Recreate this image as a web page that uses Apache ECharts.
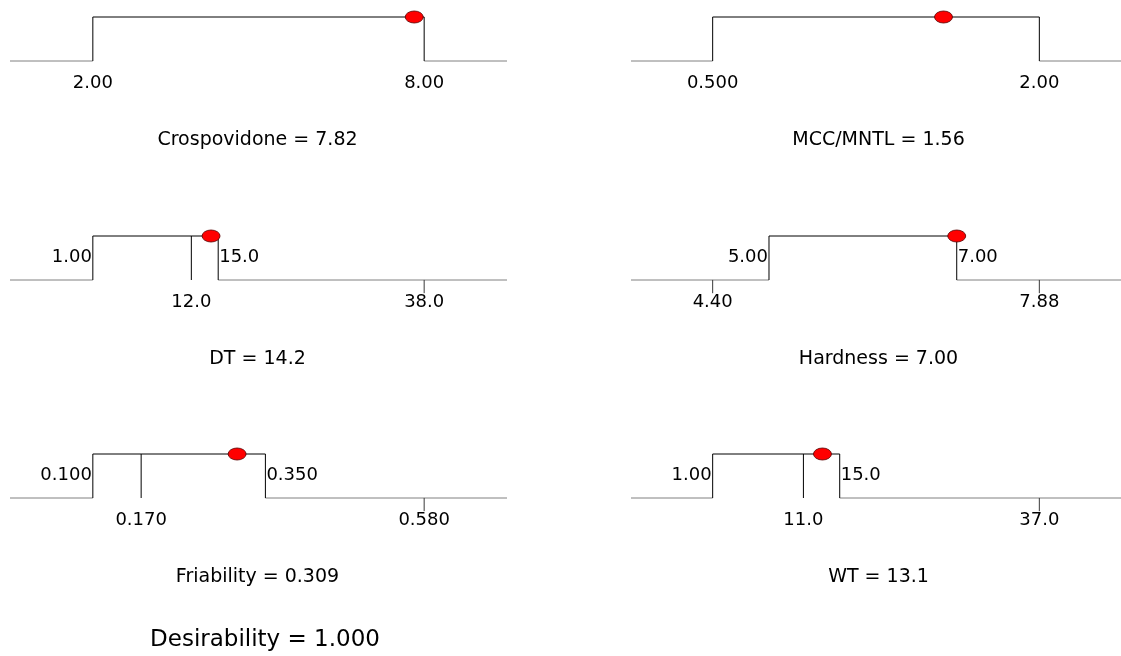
<!DOCTYPE html>
<html>
<head>
<meta charset="utf-8">
<script src="https://cdn.jsdelivr.net/npm/echarts@6/dist/echarts.min.js"></script>
<style>
html,body{margin:0;padding:0;background:#fff;}
#chart{width:1121px;height:656px;}
</style>
</head>
<body>
<div id="chart"></div>
<script>
// ---- data ----
const names = ['Crospovidone', 'MCC/MNTL', 'DT', 'Hardness', 'Friability', 'WT'];
const goalLow = [2, 0.5, 1, 5, 0.1, 1];
const goalHigh = [8, 2, 15, 7, 0.35, 15];
const dataMin = [2, 0.5, 12, 4.4, 0.17, 11];
const dataMax = [8, 2, 38, 7.88, 0.58, 37];
const current = [7.82, 1.56, 14.2, 7.0, 0.309, 13.1];
const goalLowText = ['2.00', '0.500', '1.00', '5.00', '0.100', '1.00'];
const goalHighText = ['8.00', '2.00', '15.0', '7.00', '0.350', '15.0'];
const dataMinText = ['2.00', '0.500', '12.0', '4.40', '0.170', '11.0'];
const dataMaxText = ['8.00', '2.00', '38.0', '7.88', '0.580', '37.0'];
const currentText = ['7.82', '1.56', '14.2', '7.00', '0.309', '13.1'];
const desirabilityText = '1.000';

// ---- layout ----
const FONT = 'DejaVu Sans';
const rowBase = [61, 280, 498];
const colLeft = [10, 631];
const panelW = 497;
const unitPx = 44;
const YMIN = -0.6, YMAX = 1.3;

const grids = [], xAxes = [], yAxes = [], series = [], graphics = [];

function seg(i, pts, color, z) {
  series.push({
    type: 'line', xAxisIndex: i, yAxisIndex: i, data: pts, symbol: 'none',
    lineStyle: { color: color, width: 1 }, silent: true, z: z || 2
  });
}
function txt(i, x, y, text, position) {
  series.push({
    type: 'scatter', xAxisIndex: i, yAxisIndex: i, symbolSize: 0, data: [[x, y]],
    silent: true, z: 4, itemStyle: { opacity: 1, color: '#000' },
    label: { show: true, formatter: text, position: position, distance: 1,
      color: '#000', opacity: 1, textBorderWidth: 0, fontSize: 18, fontFamily: FONT }
  });
}

names.forEach(function (name, i) {
  const r = Math.floor(i / 2), c = i % 2;
  const base = rowBase[r];
  grids.push({ left: colLeft[c], width: panelW, top: base - YMAX * unitPx, height: (YMAX - YMIN) * unitPx });
  const lo = Math.min(goalLow[i], dataMin[i]);
  const hi = Math.max(goalHigh[i], dataMax[i]);
  const pad = 0.25 * (hi - lo);
  const xmin = lo - pad, xmax = hi + pad;
  xAxes.push({ type: 'value', gridIndex: i, min: xmin, max: xmax, show: false });
  yAxes.push({ type: 'value', gridIndex: i, min: YMIN, max: YMAX, show: false });

  // zero-desirability segments
  seg(i, [[xmin, 0], [goalLow[i], 0]], '#808080', 2);
  seg(i, [[goalHigh[i], 0], [xmax, 0]], '#808080', 2);
  // desirable region
  seg(i, [[goalLow[i], 0], [goalLow[i], 1], [goalHigh[i], 1], [goalHigh[i], 0]], '#000', 3);

  // data range ticks and labels
  const marks = [[dataMin[i], dataMinText[i]], [dataMax[i], dataMaxText[i]]];
  marks.forEach(function (d) {
    const v = d[0];
    if (v !== goalLow[i] && v !== goalHigh[i]) {
      if (v > goalLow[i] && v < goalHigh[i]) {
        seg(i, [[v, 0], [v, 1]], '#000', 3);
      } else {
        seg(i, [[v, 0.001], [v, -0.3]], '#3a3a3a', 6);
      }
    }
    txt(i, v, -0.5, d[1], 'inside');
  });
  // goal limit labels (when distinct from data range)
  if (goalLow[i] !== dataMin[i]) txt(i, goalLow[i], 0.52, goalLowText[i], 'left');
  if (goalHigh[i] !== dataMax[i]) txt(i, goalHigh[i], 0.52, goalHighText[i], 'right');

  // current setting
  series.push({
    type: 'scatter', xAxisIndex: i, yAxisIndex: i, data: [[current[i], 1]],
    symbol: 'circle', symbolSize: [18, 12], silent: true, z: 10,
    itemStyle: { color: '#ff0000', borderColor: '#5a0000', borderWidth: 0.8, opacity: 1 }
  });

  graphics.push({
    type: 'text', x: colLeft[c] + panelW / 2 - 1, y: base + 79,
    style: { text: name + ' = ' + currentText[i], fill: '#000', font: '19px "' + FONT + '"',
      textAlign: 'center', textVerticalAlign: 'middle' }
  });
});

graphics.push({
  type: 'text', x: 265, y: 640,
  style: { text: 'Desirability = ' + desirabilityText, fill: '#000', font: '23px "' + FONT + '"',
    textAlign: 'center', textVerticalAlign: 'middle' }
});

const chart = echarts.init(document.getElementById('chart'), null, { renderer: 'canvas' });
chart.setOption({
  animation: false,
  backgroundColor: '#fff',
  grid: grids,
  xAxis: xAxes,
  yAxis: yAxes,
  series: series,
  graphic: graphics
});
</script>
</body>
</html>
